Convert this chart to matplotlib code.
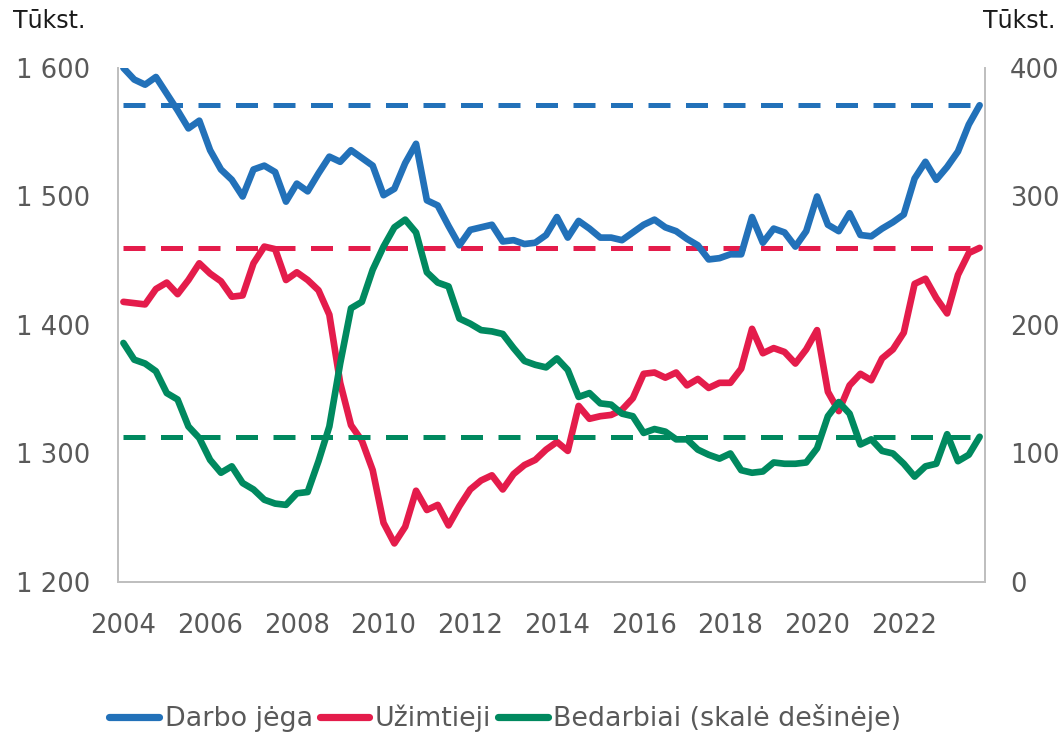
import matplotlib
matplotlib.use("Agg")
import matplotlib.pyplot as plt
import numpy as np

# Quarterly data 2004Q1 - 2023Q4 (thousands)
years = [2004, 2006, 2008, 2010, 2012, 2014, 2016, 2018, 2020, 2022]
darbo_jega = [1600, 1591, 1587, 1593, 1580, 1567, 1553, 1559, 1536, 1521,
              1513, 1500, 1521, 1524, 1519, 1496, 1510, 1504, 1518, 1531,
              1527, 1536, 1530, 1524, 1501, 1506, 1526, 1541, 1497, 1493,
              1477, 1462, 1474, 1476, 1478, 1465, 1466, 1463, 1464, 1470,
              1484, 1468, 1481, 1475, 1468, 1468, 1466, 1472, 1478, 1482,
              1476, 1473, 1467, 1462, 1451, 1452, 1455, 1455, 1484, 1464,
              1475, 1472, 1461, 1473, 1500, 1478, 1473, 1487, 1470, 1469,
              1475, 1480, 1486, 1514, 1527, 1513, 1523, 1535, 1556, 1571]
uzimtieji = [1418, 1417, 1416, 1428, 1433, 1424, 1435, 1448, 1440, 1434,
             1422, 1423, 1448, 1461, 1459, 1435, 1441, 1435, 1427, 1408,
             1355, 1322, 1310, 1287, 1246, 1230, 1243, 1271, 1256, 1260,
             1244, 1259, 1272, 1279, 1283, 1272, 1284, 1291, 1295, 1303,
             1309, 1302, 1337, 1327, 1329, 1330, 1334, 1343, 1362, 1363,
             1359, 1363, 1353, 1358, 1351, 1355, 1355, 1366, 1397, 1378,
             1382, 1379, 1370, 1381, 1396, 1348, 1333, 1353, 1362, 1357,
             1374, 1381, 1394, 1432, 1436, 1421, 1409, 1439, 1456, 1460]
bedarbiai = [186, 173, 170, 164, 147, 142, 121, 112, 95, 85,
             90, 77, 72, 64, 61, 60, 69, 70, 94, 121,
             170, 213, 218, 243, 261, 276, 282, 272, 241, 233,
             230, 205, 201, 196, 195, 193, 182, 172, 169, 167,
             174, 165, 144, 147, 139, 138, 131, 129, 116, 119,
             117, 111, 111, 103, 99, 96, 100, 87, 85, 86,
             93, 92, 92, 93, 104, 129, 140, 131, 107, 111,
             102, 100, 92, 82, 90, 92, 115, 94, 99, 113]

left_ticks = [1200, 1300, 1400, 1500, 1600]
left_labels = ["1 200", "1 300", "1 400", "1 500", "1 600"]
right_ticks = [0, 100, 200, 300, 400]

BLUE = "#2271B9"
RED = "#E41C4B"
GREEN = "#00895F"
TXT = "#595959"
SPINE = "#BFBFBF"
FS = 18.6
LFS = 19.4

plt.rcParams['font.family'] = ['DejaVu Sans']

fig = plt.figure(figsize=(10.64, 7.35), dpi=100)
ax = fig.add_axes([0.1109, 0.2082, 0.8149, 0.6993])
ax2 = ax.twinx()

n = len(darbo_jega)
x = np.arange(n)

dash = (4.4, 3.1)
ax.plot(x, [darbo_jega[-1]] * n, color=BLUE, lw=3.6, dashes=dash, zorder=1)
ax.plot(x, [uzimtieji[-1]] * n, color=RED, lw=3.6, dashes=dash, zorder=1)
l1, = ax.plot(x, darbo_jega, color=BLUE, lw=4.8, solid_joinstyle='round',
              solid_capstyle='round', zorder=3, label="Darbo jėga")
l2, = ax.plot(x, uzimtieji, color=RED, lw=4.8, solid_joinstyle='round',
              solid_capstyle='round', zorder=3, label="Užimtieji")
ax2.plot(x, [bedarbiai[-1]] * n, color=GREEN, lw=3.6, dashes=dash, zorder=1)
l3, = ax2.plot(x, bedarbiai, color=GREEN, lw=4.8, solid_joinstyle='round',
               solid_capstyle='round', zorder=3, label="Bedarbiai (skalė dešinėje)")

ax.set_xlim(-0.5, n - 0.5)
ax.set_ylim(1200, 1600)
ax2.set_ylim(0, 400)

ax.set_xticks([(y - years[0]) * 4 for y in years])
ax.set_xticklabels([str(y) for y in years])
ax.set_yticks(left_ticks)
ax.set_yticklabels(left_labels)
ax2.set_yticks(right_ticks)
ax2.set_yticklabels([str(v) for v in right_ticks])

for a in (ax, ax2):
    a.tick_params(length=0, labelsize=FS, labelcolor=TXT)
    a.spines['top'].set_visible(False)
    for s in ('left', 'right', 'bottom'):
        a.spines[s].set_color(SPINE)
        a.spines[s].set_linewidth(1.3)
ax.tick_params(axis='y', pad=20)
ax.tick_params(axis='x', pad=22)
ax2.tick_params(axis='y', pad=18)
ax2.patch.set_visible(False)

fig.text(0.012, 0.972, "Tūkst.", fontsize=17, color="#1a1a1a", ha='left', va='center')
fig.text(0.992, 0.972, "Tūkst.", fontsize=17, color="#1a1a1a", ha='right', va='center')

leg = fig.legend(handles=[l1, l2, l3], loc='center', bbox_to_anchor=(0.475, 0.023),
                 ncol=3, frameon=False, fontsize=LFS, handlelength=1.85,
                 handletextpad=0.2, columnspacing=0.25, borderaxespad=0)
for t in leg.get_texts():
    t.set_color(TXT)
for h in leg.legend_handles:
    h.set_linewidth(5.2)
    h.set_solid_capstyle('round')

fig.savefig("out.png", dpi=100)
